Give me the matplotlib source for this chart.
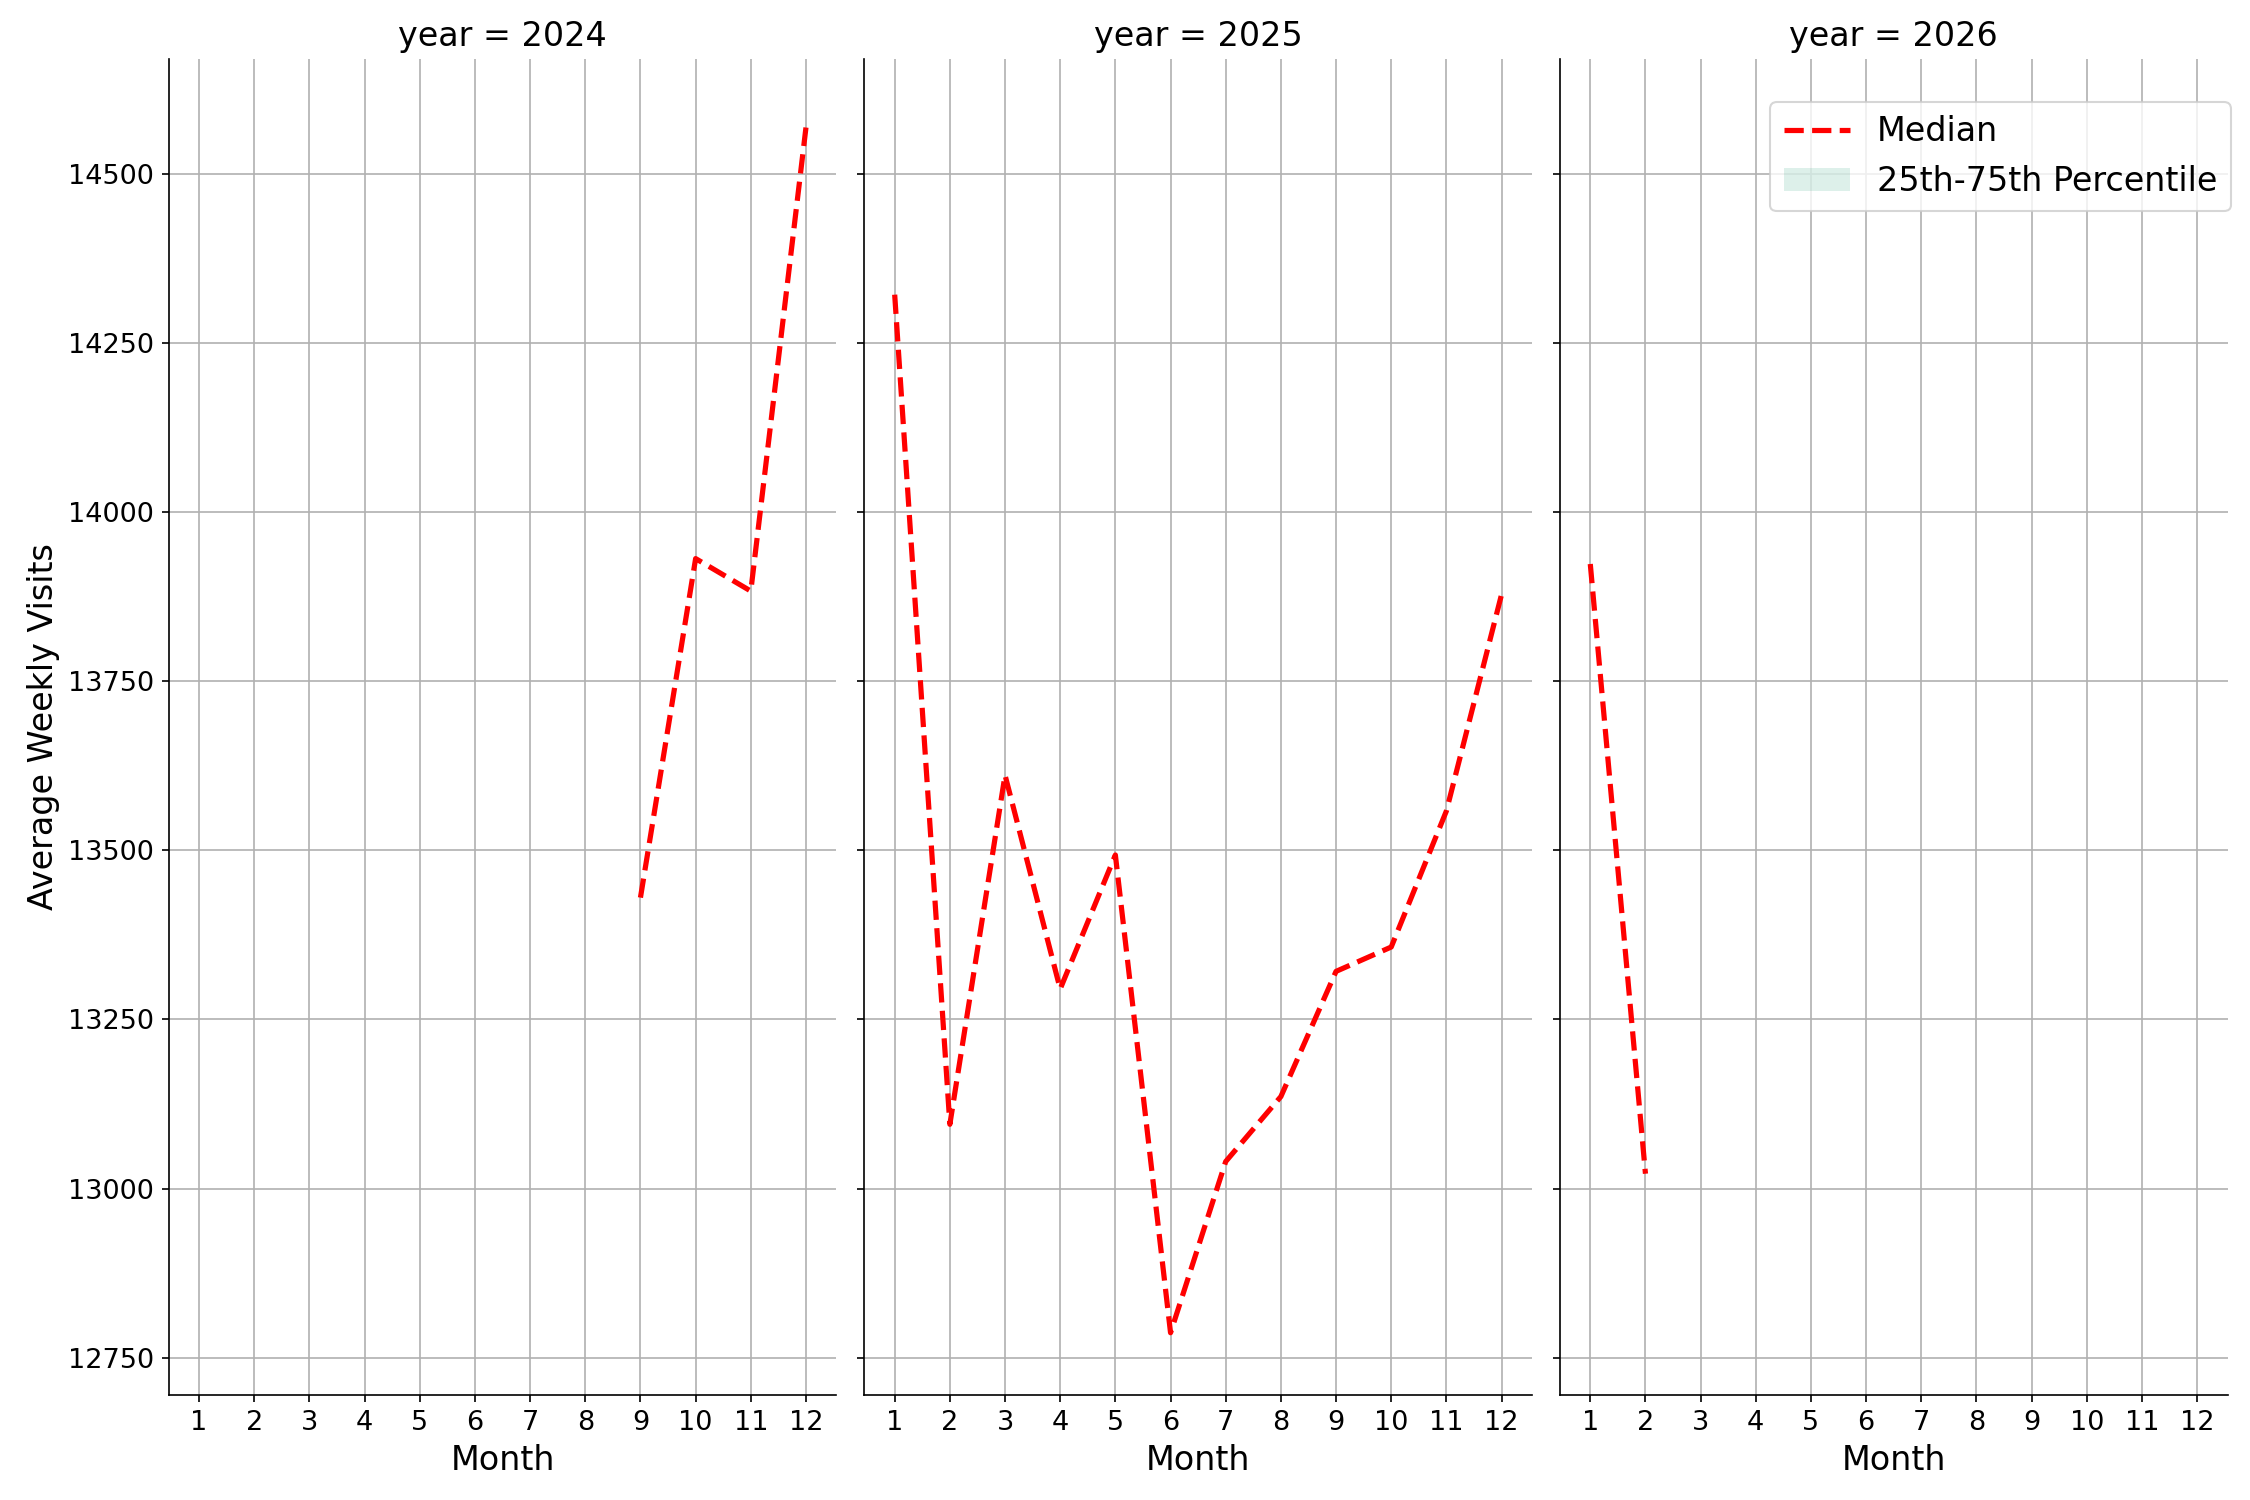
import numpy as np
import matplotlib.pyplot as plt

# median of average weekly visits per month, per year
years = [2024, 2025, 2026]
months_2024 = [9, 10, 11, 12]
median_2024 = [13430, 13931, 13883, 14568]
months_2025 = [1, 2, 3, 4, 5, 6, 7, 8, 9, 10, 11, 12]
median_2025 = [14321, 13095, 13611, 13295, 13493, 12787, 13040, 13136, 13321, 13357, 13558, 13878]
months_2026 = [1, 2]
median_2026 = [13923, 13022]

# only one value per month, so the 25th-75th band collapses onto the median
series = {
    2024: (months_2024, median_2024, median_2024, median_2024),
    2025: (months_2025, median_2025, median_2025, median_2025),
    2026: (months_2026, median_2026, median_2026, median_2026),
}
month_ticks = list(range(1, 13))

fig, axes = plt.subplots(1, 3, figsize=(15, 10), dpi=150, sharey=True)
fig.subplots_adjust(left=0.075, right=0.99, bottom=0.07, top=0.961, wspace=0.042)

for ax, yr in zip(axes, years):
    m, med, q25, q75 = series[yr]
    ax.fill_between(m, q25, q75, color='#1b9e77', alpha=0.15, lw=0, label='25th-75th Percentile')
    ax.plot(m, med, color='red', ls='--', lw=2.5, label='Median')
    ax.set_title(f'year = {yr}', fontsize=16)
    ax.set_xlabel('Month', fontsize=16)
    ax.set_xticks(month_ticks)
    ax.set_xlim(0.45, 12.55)
    ax.tick_params(labelsize=13)
    ax.grid(True, color='#b0b0b0', lw=0.8)
    ax.set_axisbelow(True)
    ax.spines['top'].set_visible(False)
    ax.spines['right'].set_visible(False)

axes[0].set_ylabel('Average Weekly Visits', fontsize=16)
axes[0].set_yticks([12750, 13000, 13250, 13500, 13750, 14000, 14250, 14500])
axes[0].set_ylim(12695, 14670)

h, l = axes[2].get_legend_handles_labels()
axes[2].legend([h[1], h[0]], [l[1], l[0]], loc='upper right', fontsize=16, bbox_to_anchor=(1.03, 0.98))

plt.savefig('out.png')
